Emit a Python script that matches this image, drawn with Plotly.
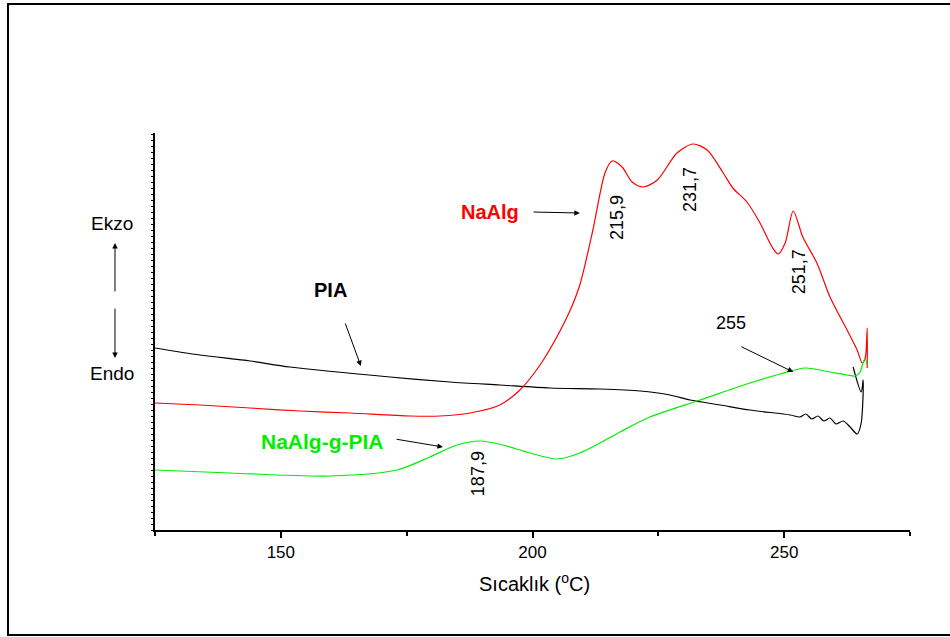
import plotly.graph_objects as go

# ---- data (temperature in °C, DSC signal in arbitrary units) ----
pia_T = [125.0, 133.9, 143.9, 151.8, 171.7, 183.6, 193.5, 203.5, 213.4, 221.4, 227.3, 231.3,
         237.3, 243.2, 251.2, 253.1, 254.3, 255.5, 256.7, 257.9, 259.1, 260.3, 261.7, 263.1,
         264.5, 265.3, 265.7, 265.3, 263.7]
pia_y = [182, 175, 169, 163, 153, 148, 145, 142, 141, 139, 135, 130,
         125, 120, 115, 113, 116, 111, 114, 109, 112, 106, 109, 103,
         96, 107, 150, 138, 163]

naalg_T = [125.0, 133.9, 143.9, 153.8, 163.7, 175.7, 181.6, 187.6, 193.5, 197.5, 201.5, 204.5,
           207.5, 209.4, 212.0, 214.4, 215.8, 217.8, 219.8, 222.0, 224.8, 228.7, 231.9, 234.7,
           237.9, 239.8, 242.6, 245.2, 247.6, 248.8, 250.2, 251.8, 253.7, 256.5, 259.1, 262.5,
           264.5, 265.5, 266.1, 266.5, 266.5]
naalg_y = [127, 125, 122, 119, 117, 114, 114, 117, 125, 140, 165, 190,
           220, 245, 300, 357, 369, 363, 348, 343, 350, 377, 386, 380,
           357, 342, 328, 307, 283, 276, 287, 319, 293, 267, 233, 200,
           180, 167, 172, 202, 162]

graft_T = [125.0, 139.9, 159.8, 173.1, 179.6, 185.0, 189.6, 194.1, 199.5, 204.9, 209.4, 213.4,
           217.4, 223.3, 233.3, 243.2, 249.2, 254.2, 259.1, 262.5, 264.1, 265.1, 265.7, 266.1, 266.5]
graft_y = [60, 57, 54, 60, 73, 85, 89, 85, 77, 71, 77, 87,
           98, 113, 130, 147, 156, 162, 158, 155, 154, 158, 168, 171, 165]

x_ticks = [150, 200, 250]
x_ticklabels = ["150", "200", "250"]

peak_labels = ["215,9", "231,7", "251,7", "187,9"]

FONT = "Liberation Sans, Arial, sans-serif"

fig = go.Figure()
fig.add_trace(go.Scatter(x=pia_T, y=pia_y, mode="lines",
                         line=dict(color="black", width=1.2, shape="spline", smoothing=0.8),
                         name="PIA", showlegend=False))
fig.add_trace(go.Scatter(x=naalg_T, y=naalg_y, mode="lines",
                         line=dict(color="#ff0000", width=1.2, shape="spline", smoothing=0.8),
                         name="NaAlg", showlegend=False))
fig.add_trace(go.Scatter(x=graft_T, y=graft_y, mode="lines",
                         line=dict(color="#00ee00", width=1.2, shape="spline", smoothing=0.8),
                         name="NaAlg-g-PIA", showlegend=False))

ann = []
# series labels
ann.append(dict(x=191.6, y=318, text="<b>NaAlg</b>", font=dict(color="#ff0000", size=20)))
ann.append(dict(x=159.8, y=240, text="<b>PIA</b>", font=dict(color="black", size=20)))
ann.append(dict(x=158.2, y=89, text="<b>NaAlg-g-PIA</b>", font=dict(color="#00ee00", size=21)))
ann.append(dict(x=239.4, y=207, text="255", font=dict(color="black", size=18)))
# rotated peak labels
for (tx, ty), lab in zip([(216.8, 312), (231.3, 340), (253.0, 258), (189.2, 56)], peak_labels):
    ann.append(dict(x=tx, y=ty, text=lab, textangle=-90, font=dict(color="black", size=18)))
for a in ann:
    a.update(xref="x", yref="y", showarrow=False, xanchor="center", yanchor="middle")
    a["font"]["family"] = FONT

# arrows (tail -> head)
arrows = [((199.9, 318), (209.4, 317)),
          ((162.7, 208), (165.9, 164)),
          ((172.7, 91), (182.2, 83)),
          ((241.2, 184), (251.8, 158))]
for (tx, ty), (hx, hy) in arrows:
    ann.append(dict(x=hx, y=hy, ax=tx, ay=ty, xref="x", yref="y", axref="x", ayref="y",
                    text="", showarrow=True, arrowhead=2, arrowsize=1.1, arrowwidth=1,
                    arrowcolor="black"))

# Ekzo / Endo
ann.append(dict(x=-0.057, y=0.771, xref="paper", yref="paper", text="Ekzo", showarrow=False,
                xanchor="center", yanchor="middle",
                font=dict(family=FONT, size=19, color="black")))
ann.append(dict(x=-0.057, y=0.393, xref="paper", yref="paper", text="Endo", showarrow=False,
                xanchor="center", yanchor="middle",
                font=dict(family=FONT, size=19, color="black")))
ann.append(dict(x=-0.053, y=0.723, ax=0, ay=50, xref="paper", yref="paper",
                axref="pixel", ayref="pixel", text="", showarrow=True, arrowhead=2,
                arrowsize=1.1, arrowwidth=1, arrowcolor="black"))
ann.append(dict(x=-0.053, y=0.433, ax=0, ay=-51, xref="paper", yref="paper",
                axref="pixel", ayref="pixel", text="", showarrow=True, arrowhead=2,
                arrowsize=1.1, arrowwidth=1, arrowcolor="black"))
# x-axis title
ann.append(dict(x=0.5026, y=-0.131, xref="paper", yref="paper", text="Sıcaklık (<sup>o</sup>C)",
                showarrow=False, xanchor="center", yanchor="middle",
                font=dict(family=FONT, size=20, color="black")))

fig.update_layout(
    width=950, height=637,
    margin=dict(l=155, r=40, t=133, b=107),
    paper_bgcolor="white", plot_bgcolor="white",
    annotations=ann,
    shapes=[dict(type="rect", xref="paper", yref="paper", x0=-0.1947, x1=1.06, y0=-0.2645, y1=1.325,
                 line=dict(color="black", width=2), layer="below")],
    xaxis=dict(range=[125, 275], showgrid=False, zeroline=False, showline=True,
               linecolor="black", linewidth=2, ticks="outside", ticklen=6, tickwidth=2,
               tickcolor="black", tickvals=x_ticks, ticktext=x_ticklabels,
               tickfont=dict(family=FONT, size=17, color="black"),
               minor=dict(tick0=125, dtick=25, ticks="outside", ticklen=4, tickwidth=2,
                          tickcolor="black")),
    yaxis=dict(range=[0, 397], showgrid=False, zeroline=False, showline=True,
               linecolor="black", linewidth=2, ticks="outside", ticklen=2, tickwidth=1,
               tickcolor="black", tick0=0, dtick=6, showticklabels=False),
)

fig.write_html("out.html")
